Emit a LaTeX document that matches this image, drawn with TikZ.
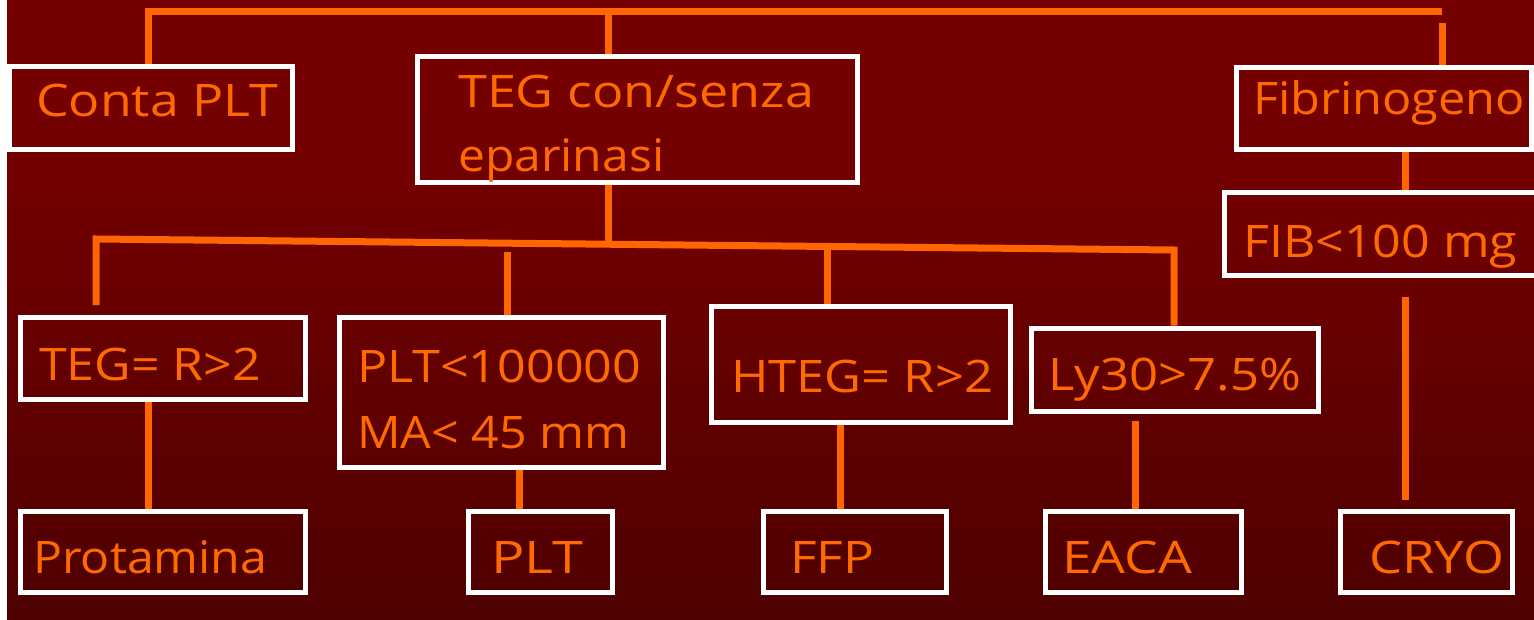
\documentclass[tikz,border=0pt]{standalone}
\usepackage{fontspec}
\setmainfont{Open Sans}
\usetikzlibrary{fit}
\definecolor{bgtop}{HTML}{7C0000}
\definecolor{bgmid}{HTML}{720000}
\definecolor{bgbot}{HTML}{340000}
\definecolor{org}{HTML}{FF6600}
\definecolor{txtorg}{HTML}{FF6A00}
\pgfdeclareverticalshading{bgshade}{100bp}{color(0bp)=(bgbot); color(60bp)=(bgmid); color(100bp)=(bgtop)}
\newcommand\tw[2]{\resizebox{#1bp}{\height}{#2}}
\begin{document}
\begin{tikzpicture}[x=1bp,y=-1bp,
  box/.style={draw=white,line width=5bp,inner sep=0pt,rectangle},
  conn/.style={draw=org,line width=7bp,line join=miter},
  lbl/.style={text=txtorg,font=\fontsize{45}{54}\selectfont,inner sep=0pt,anchor=base west}]
\useasboundingbox (0,0) rectangle (1534,620);
\fill[white] (0,0) rectangle (1534,620);
\shade[shading=bgshade] (7,0) rectangle (1534,619);
% boxes
\node[box,fit={(9,67) (292,150)}] (conta) {};
\node[box,fit={(417,57) (857,183)}] (teg) {};
\node[box,fit={(1236,68) (1531,150)}] (fib) {};
\node[box,fit={(1224,193) (1545,275)}] (fib100) {};
\node[box,fit={(20,317) (305,399)}] (tegr) {};
\node[box,fit={(339,317) (663,467)}] (pltma) {};
\node[box,fit={(711,306) (1010,422)}] (hteg) {};
\node[box,fit={(1031,328) (1318,411)}] (ly30) {};
\node[box,fit={(20,511) (305,592)}] (prot) {};
\node[box,fit={(468,511) (612,592)}] (plt) {};
\node[box,fit={(763,511) (946,592)}] (ffp) {};
\node[box,fit={(1045,511) (1241,592)}] (eaca) {};
\node[box,fit={(1340,511) (1512,592)}] (cryo) {};
% labels
\node[lbl] (tconta) at (36,117) {\tw{242}{Conta PLT}};
\node[lbl] (tteg1) at (458,108) {\tw{356}{TEG con/senza}};
\node[lbl] (tteg2) at (458,172) {\tw{206}{eparinasi}};
\node[lbl] (tfib) at (1253,115) {\tw{272}{Fibrinogeno}};
\node[lbl] (tfib100) at (1243,257) {\tw{274}{FIB<100 mg}};
\node[lbl] (ttegr) at (39,380) {\tw{222}{TEG= R>2}};
\node[lbl] (tplt1) at (357,382) {\tw{284}{PLT<100000}};
\node[lbl] (tplt2) at (357,448) {\tw{272}{MA< 45 mm}};
\node[lbl] (thteg) at (731,392) {\tw{262}{HTEG= R>2}};
\node[lbl] (tly) at (1048,390) {\tw{253}{Ly30>7.5\%}};
\node[lbl] (tprot) at (33,573) {\tw{234}{Protamina}};
\node[lbl] (tplt) at (491,573) {\tw{92}{PLT}};
\node[lbl] (tffp) at (790,573) {\tw{84}{FFP}};
\node[lbl] (teaca) at (1062,573) {\tw{130}{EACA}};
\node[lbl] (tcryo) at (1369,573) {\tw{135}{CRYO}};
% connector points
\coordinate (b1L) at (148,12);
\coordinate (b1M) at (608,12);
\coordinate (b1R) at (1442,12);
\coordinate (fibtop) at (1442,23);
\coordinate (xf) at (1405,0);
\coordinate (cryoA) at (1405,297);
\coordinate (cryoB) at (1405,500);
\coordinate (b2L) at (96,239);
\coordinate (b2M) at (608,244);
\coordinate (b2R) at (1174,250);
\coordinate (d1) at (96,305);
\coordinate (d2) at (507,252);
\coordinate (d3) at (827,246);
\coordinate (x148) at (148,0);
\coordinate (x519) at (519,0);
\coordinate (x840) at (840,0);
\coordinate (e1) at (1135,421);
% connectors
\draw[conn] (conta.north -| b1L) -- (b1L) -- (b1R);
\draw[conn] (teg.north -| b1M) -- (b1M);
\draw[conn] (fib.north -| fibtop) -- (fibtop);
\draw[conn] (fib.south -| xf) -- (fib100.north -| xf);
\draw[conn] (cryoA) -- (cryoB);
\draw[conn] (teg.south -| b2M) -- (b2M);
\draw[conn] (d1) -- (b2L) -- (b2R) -- (ly30.north -| b2R);
\draw[conn] (d2) -- (pltma.north -| d2);
\draw[conn] (d3) -- (hteg.north -| d3);
\draw[conn] (tegr.south -| x148) -- (prot.north -| x148);
\draw[conn] (pltma.south -| x519) -- (plt.north -| x519);
\draw[conn] (hteg.south -| x840) -- (ffp.north -| x840);
\draw[conn] (e1) -- (eaca.north -| e1);
\end{tikzpicture}
\end{document}
